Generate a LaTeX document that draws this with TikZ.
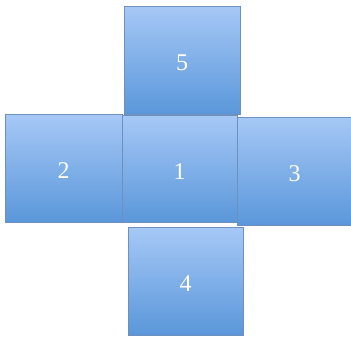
\documentclass[tikz,border=0pt]{standalone}
\usepackage{fontspec}
\setmainfont{Liberation Serif}
\definecolor{facetop}{HTML}{A6C8F6}
\definecolor{facebot}{HTML}{5A97DA}
\definecolor{faceline}{HTML}{6E90BC}
\begin{document}
\begin{tikzpicture}[x=1pt,y=-1pt,
  face/.style={draw=faceline, line width=1pt, top color=facetop, bottom color=facebot},
  num/.style={text=white, font=\fontsize{24}{28}\selectfont, inner sep=0pt, yshift=-3pt}]
\useasboundingbox (0,0) rectangle (351,338);
\path[face] (124,6) rectangle (240,114) node[midway, num] (f5) {5};
\path[face] (5,114) rectangle (122,222) node[midway, num] (f2) {2};
\path[face] (237,117) rectangle (352,225) node[midway, num] (f3) {3};
\path[face] (128,227) rectangle (243,335) node[midway, num] (f4) {4};
\path[face] (122,115) rectangle (237,222) node[midway, num] (f1) {1};
\end{tikzpicture}
\end{document}
